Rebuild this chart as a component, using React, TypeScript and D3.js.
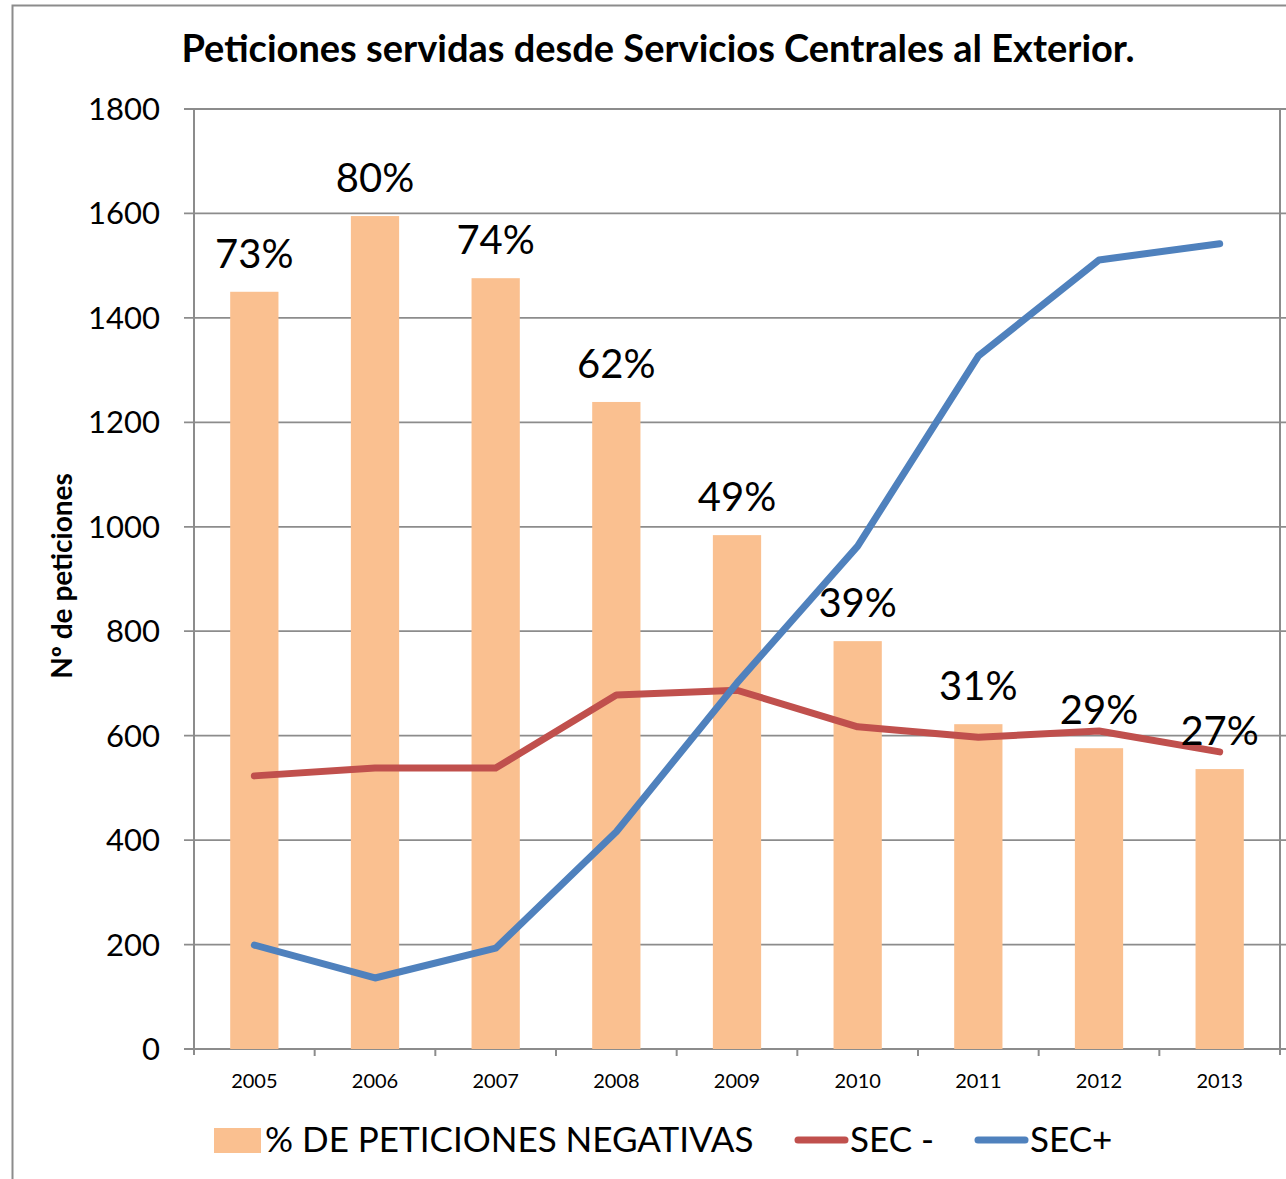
import React, { useEffect, useRef } from 'react'
import * as d3 from 'd3'

// data
const years = ['2005', '2006', '2007', '2008', '2009', '2010', '2011', '2012', '2013']
const negativas = [1450, 1595, 1476, 1239, 984, 781, 622, 576, 536]
const pctLabels = ['73%', '80%', '74%', '62%', '49%', '39%', '31%', '29%', '27%']
const secMenos = [523, 538, 538, 678, 687, 617, 597, 609, 569]
const secMas = [199, 136, 193, 416, 701, 963, 1327, 1511, 1542]
const yTicks = [0, 200, 400, 600, 800, 1000, 1200, 1400, 1600, 1800]

const W = 1286
const H = 1179
const FONT = 'Lato, "Open Sans", sans-serif'

export default function App() {
    const ref = useRef<SVGSVGElement>(null)

    useEffect(() => {
        const svg = d3.select(ref.current)
        svg.selectAll('*').remove()

        const left = 194, right = 1280, top = 109, bottom = 1049

        const x = d3.scaleBand().domain(years).range([left, right]).paddingInner(0.6).paddingOuter(0.3)
        const y = d3.scaleLinear().domain([0, 1800]).range([bottom, top])
        const step = x.step()
        const cx = (d: string) => (x(d) as number) + x.bandwidth() / 2

        // outer frame
        svg.append('rect')
            .attr('x', 12.5).attr('y', 5.5)
            .attr('width', 1400).attr('height', 1300)
            .attr('fill', 'white')
            .attr('stroke', '#8c8c8c').attr('stroke-width', 2)

        // title
        svg.append('text')
            .attr('x', 658).attr('y', 62)
            .attr('text-anchor', 'middle')
            .style('font-family', FONT)
            .style('font-weight', 'bold')
            .style('font-size', '38px')
            .text('Peticiones servidas desde Servicios Centrales al Exterior.')

        // gridlines
        svg.append('g').selectAll('line')
            .data(yTicks)
            .join('line')
            .attr('x1', left - 10).attr('x2', right + 10)
            .attr('y1', d => y(d)).attr('y2', d => y(d))
            .attr('stroke', '#8c8c8c').attr('stroke-width', 1.8)

        // y axis labels
        svg.append('g').selectAll('text')
            .data(yTicks)
            .join('text')
            .attr('x', 160).attr('y', d => y(d) + 11)
            .attr('text-anchor', 'end')
            .style('font-family', FONT)
            .style('font-size', '31px')
            .text(d => d)

        // axis lines
        svg.append('line')
            .attr('x1', left).attr('x2', left).attr('y1', top).attr('y2', bottom + 6)
            .attr('stroke', '#8c8c8c').attr('stroke-width', 2)
        svg.append('line')
            .attr('x1', right).attr('x2', right).attr('y1', top).attr('y2', bottom + 6)
            .attr('stroke', '#8c8c8c').attr('stroke-width', 2)

        // x ticks at category boundaries
        svg.append('g').selectAll('line')
            .data(years.slice(1))
            .join('line')
            .attr('x1', d => cx(d) - step / 2).attr('x2', d => cx(d) - step / 2)
            .attr('y1', bottom).attr('y2', bottom + 7)
            .attr('stroke', '#8c8c8c').attr('stroke-width', 2)

        svg.append('g').selectAll('text')
            .data(years)
            .join('text')
            .attr('x', d => cx(d)).attr('y', 1088)
            .attr('text-anchor', 'middle')
            .style('font-family', FONT)
            .style('font-size', '20px')
            .text(d => d)

        // y axis title
        svg.append('text')
            .attr('transform', 'translate(72,576) rotate(-90)')
            .attr('text-anchor', 'middle')
            .style('font-family', FONT)
            .style('font-weight', 'bold')
            .style('font-size', '28px')
            .text('Nº de peticiones')

        // bars
        svg.append('g').selectAll('rect')
            .data(years)
            .join('rect')
            .attr('x', d => x(d) as number)
            .attr('width', x.bandwidth())
            .attr('y', (d, i) => y(negativas[i]))
            .attr('height', (d, i) => bottom - y(negativas[i]))
            .attr('fill', '#FAC090')

        const line = d3.line<number>()
            .x((d, i) => cx(years[i]))
            .y(d => y(d))

        svg.append('path')
            .datum(secMenos)
            .attr('d', line)
            .attr('fill', 'none')
            .attr('stroke', '#C0504D').attr('stroke-width', 7)
            .attr('stroke-linecap', 'round').attr('stroke-linejoin', 'round')

        svg.append('path')
            .datum(secMas)
            .attr('d', line)
            .attr('fill', 'none')
            .attr('stroke', '#4F81BD').attr('stroke-width', 7)
            .attr('stroke-linecap', 'round').attr('stroke-linejoin', 'round')

        // percentage labels
        svg.append('g').selectAll('text')
            .data(years)
            .join('text')
            .attr('x', d => cx(d))
            .attr('y', (d, i) => y(negativas[i]) - 24)
            .attr('text-anchor', 'middle')
            .style('font-family', FONT)
            .style('font-size', '40px')
            .text((d, i) => pctLabels[i])

        // legend
        const lg = svg.append('g')
        lg.append('rect').attr('x', 214).attr('y', 1128).attr('width', 47).attr('height', 25).attr('fill', '#FAC090')
        lg.append('text').attr('x', 265).attr('y', 1152)
            .style('font-family', FONT).style('font-size', '35px')
            .text('% DE PETICIONES NEGATIVAS')
        lg.append('line').attr('x1', 798).attr('x2', 845).attr('y1', 1140).attr('y2', 1140)
            .attr('stroke', '#C0504D').attr('stroke-width', 7).attr('stroke-linecap', 'round')
        lg.append('text').attr('x', 850).attr('y', 1152)
            .style('font-family', FONT).style('font-size', '35px')
            .text('SEC -')
        lg.append('line').attr('x1', 978).attr('x2', 1025).attr('y1', 1140).attr('y2', 1140)
            .attr('stroke', '#4F81BD').attr('stroke-width', 7).attr('stroke-linecap', 'round')
        lg.append('text').attr('x', 1030).attr('y', 1152)
            .style('font-family', FONT).style('font-size', '35px')
            .text('SEC+')
    }, [])

    return (
        <svg ref={ref} width={W} height={H} style={{ position: 'absolute', left: 0, top: 0, background: 'white' }} />
    )
}
